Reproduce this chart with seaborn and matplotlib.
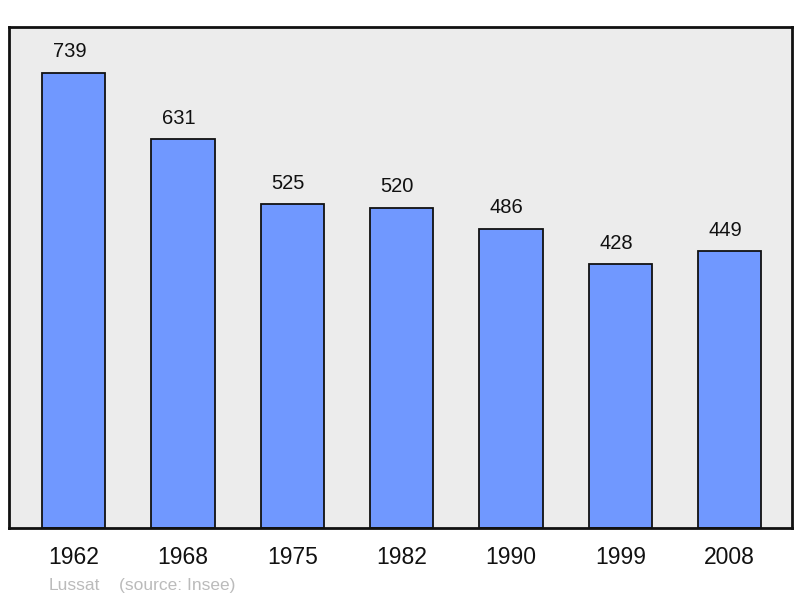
import matplotlib
matplotlib.use("Agg")
import matplotlib.pyplot as plt
import seaborn as sns
import pandas as pd

years = ["1962", "1968", "1975", "1982", "1990", "1999", "2008"]
population = [739, 631, 525, 520, 486, 428, 449]
commune = "Lussat"
source = "(source: Insee)"

sns.set_theme(style="white")
plt.rcParams["font.family"] = ["Liberation Sans", "DejaVu Sans"]

df = pd.DataFrame({"year": years, "pop": population})

fig = plt.figure(figsize=(8, 5.98), dpi=100)
ax = fig.add_axes([0.01125, 0.117, 0.97875, 0.8378])
ax.set_facecolor("#ececec")

sns.barplot(data=df, x="year", y="pop", color="#7098ff", saturation=1,
            width=0.58, edgecolor="#111111", linewidth=1.3, ax=ax)

for i, v in enumerate(population):
    ax.annotate(str(v), (i, v), xytext=(-3, 8), textcoords="offset points",
                ha="center", va="bottom", fontsize=14.5, color="#111111")

ax.set_ylim(0, 739 * 1.1)
ax.set_xlim(-0.59, 6.57)
ax.set_yticks([])
ax.set_xlabel("")
ax.set_ylabel("")
ax.tick_params(axis="x", length=0, pad=13, labelsize=16.5, labelcolor="#111111")
for s in ax.spines.values():
    s.set_color("#111111")
    s.set_linewidth(2)

fig.text(49 / 800, 1 - 590 / 598, commune, fontsize=12.5, color="#bbbbbb", va="baseline")
fig.text(119 / 800, 1 - 590 / 598, source, fontsize=12.5, color="#bbbbbb", va="baseline")

fig.savefig("out.png", dpi=100)
